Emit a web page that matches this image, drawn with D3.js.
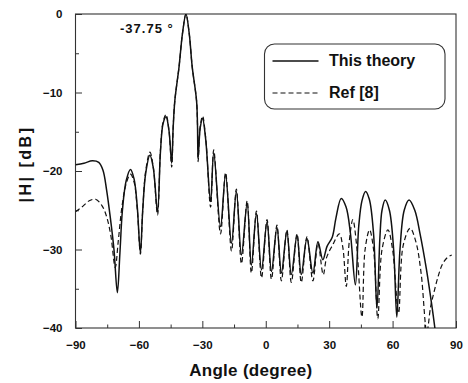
<!DOCTYPE html>
<html><head><meta charset="utf-8">
<script src="https://cdn.jsdelivr.net/npm/d3@7"></script>
<style>
body{margin:0;background:#fff;}
text{font-family:"Liberation Sans",Arial,Helvetica,sans-serif;font-weight:bold;fill:#111;}
</style></head>
<body><svg id="c" width="468" height="383"></svg>
<script>
// ---- data ----
const xTicks = [-90, -60, -30, 0, 30, 60, 90];
const xMinor = [-75, -45, -15, 15, 45, 75];
const yTicks = [0, -10, -20, -30, -40];
const yMinor = [-5, -15, -25, -35];

const theoryAngle = [-90,-86,-82,-79,-77,-75.3,-73.5,-71.8,-70.2,-69,-67.8,-66,-64,-62.3,-60.8,-59.3,-58.2,-56.8,-54.8,-53.2,-51.2,-49.8,-48.6,-47.2,-45.8,-44.5,-43.8,-43,-41,-39.4,-37.75,-36.2,-34.8,-32.75,-32.3,-32,-31,-29.9,-28.4,-26.1,-24.6,-21.4,-19.0,-16.2,-13.9,-11.5,-8.8,-6.8,-4.4,-2.0,0.6,2.7,5.3,7.4,10.0,12.1,14.8,16.8,19.5,22.3,24.7,27.0,29,31.5,33.2,35.7,38,40,42.4,44,45.5,47.2,49,51,52.6,54,55,56.5,58.5,60.5,62,63.5,65.5,67.8,70.5,73,76,78.5,80.5];
const theoryDb = [-19.2,-19.0,-18.7,-18.9,-19.9,-22.4,-26,-30,-35.5,-30.5,-25,-21.2,-19.8,-21,-24.5,-30.4,-25,-20.3,-18.0,-19.6,-25.2,-17.5,-14,-13.1,-14.8,-19.0,-14.5,-11,-6.7,-2.5,0,-2.5,-6.7,-11,-14,-18.4,-14.5,-13.3,-16,-23.9,-17.7,-27.1,-20.5,-29.2,-22.6,-30.7,-24.1,-32.0,-25.4,-32.6,-26.5,-32.8,-27.2,-33.0,-27.7,-33.2,-28.2,-33.2,-28.6,-33.0,-29.0,-31.3,-29.6,-28.4,-26,-23.5,-24.6,-27.8,-34.5,-27,-23.8,-22.6,-23.6,-28,-37.5,-28.5,-25,-23.7,-25,-30,-38.6,-30,-25,-23.7,-25,-28,-32.5,-37,-41];

const refAngle = [-90,-87,-83.5,-80.5,-77.5,-75.3,-73.3,-71.2,-69.8,-68,-66,-64,-62.3,-60.8,-59.3,-58.2,-56.8,-54.8,-53.2,-51.2,-49.8,-48.6,-47.2,-45.8,-44.5,-43.8,-43,-41,-39.4,-37.75,-36.2,-34.8,-32.75,-32.3,-32,-31,-29.9,-28.4,-26.1,-24.6,-21.4,-19.0,-16.2,-13.9,-11.5,-8.8,-6.8,-4.4,-2.0,0.6,2.7,5.3,7.4,10.0,12.1,14.8,16.8,19.5,22.3,24.7,27.2,28.8,31.5,34.8,36.5,38.1,39.5,41.2,43,45.5,47,49.1,51,53,55,57.8,60,62.8,65,68.3,71,73.5,76.2,78,79.8,81.8,83.7,86,88];
const refDb = [-25.2,-24.6,-23.8,-23.6,-24.4,-25.8,-28.2,-32.3,-29,-24.5,-21.6,-20.4,-21.4,-24.8,-30.6,-25,-20,-17.6,-19.5,-25.6,-17.3,-13.8,-12.8,-14.8,-19.5,-14.5,-11,-6.7,-2.5,0,-2.5,-6.7,-11,-14,-18.8,-14.3,-13.0,-15.8,-24.6,-17.3,-28,-20.2,-30.2,-22.3,-31.8,-23.8,-33.0,-25.1,-33.6,-26.2,-33.8,-26.9,-34.0,-27.5,-34.2,-28.0,-34.2,-28.4,-34.0,-29.2,-33.2,-31,-29.5,-28,-29.8,-34.7,-29,-26.2,-29.5,-38.6,-30,-27.5,-30,-38.8,-30,-27.5,-30,-38.1,-29.5,-27.3,-29,-33,-40.5,-37.3,-35.2,-33.2,-31.8,-31,-30.7];

const seriesNames = ["This theory", "Ref [8]"];
const peakLabel = "-37.75 °";

// ---- layout ----
const svg = d3.select("#c");
const L = 75.5, R = 456, T = 14, B = 328;
const x = d3.scaleLinear().domain([-90, 90]).range([L, R]);
const y = d3.scaleLinear().domain([-40, 0]).range([B, T]);

svg.append("defs").append("clipPath").attr("id","clip")
  .append("rect").attr("x", L).attr("y", T).attr("width", R - L).attr("height", B - T);

// axes
const gx = svg.append("g").attr("transform", `translate(0,${B})`)
  .call(d3.axisBottom(x).tickValues(xTicks).tickSize(-7).tickPadding(13).tickFormat(d3.format("d")));
const gxm = svg.append("g").attr("transform", `translate(0,${B})`)
  .call(d3.axisBottom(x).tickValues(xMinor).tickSize(-3.5).tickFormat(""));
const gy = svg.append("g").attr("transform", `translate(${L},0)`)
  .call(d3.axisLeft(y).tickValues(yTicks).tickSize(-6.5).tickPadding(13).tickFormat(d3.format("d")));
const gym = svg.append("g").attr("transform", `translate(${L},0)`)
  .call(d3.axisLeft(y).tickValues(yMinor).tickSize(-3.5).tickFormat(""));
[gx, gxm, gy, gym].forEach(g => {
  g.select(".domain").remove();
  g.selectAll("line").attr("stroke", "#333").attr("stroke-width", 1);
  g.selectAll("text").style("font-size", "11.5px").attr("fill", "#111");
});
gx.selectAll(".tick text").attr("dy", "0.71em");

// frame
svg.append("rect").attr("x", L).attr("y", T).attr("width", R - L).attr("height", B - T)
  .attr("fill", "none").attr("stroke", "#333").attr("stroke-width", 1.1);

// lines
const line = d3.line().x(d => x(d[0])).y(d => y(d[1])).curve(d3.curveCatmullRom.alpha(0.5));
const plot = svg.append("g").attr("clip-path", "url(#clip)");
plot.append("path").datum(refAngle.map((a, i) => [a, refDb[i]]))
  .attr("d", line).attr("fill", "none").attr("stroke", "#111")
  .attr("stroke-width", 1.2).attr("stroke-dasharray", "5,3");
plot.append("path").datum(theoryAngle.map((a, i) => [a, theoryDb[i]]))
  .attr("d", line).attr("fill", "none").attr("stroke", "#111").attr("stroke-width", 1.5);

// peak annotation
svg.append("text").attr("x", 120).attr("y", 32.5).style("font-size", "13px")
  .style("letter-spacing", "1px").text(peakLabel);

// legend
svg.append("rect").attr("x", 264.5).attr("y", 44).attr("width", 180.5).attr("height", 65)
  .attr("rx", 10).attr("ry", 10).attr("fill", "#fff").attr("stroke", "#333").attr("stroke-width", 1.1);
svg.append("line").attr("x1", 272.5).attr("x2", 318.5).attr("y1", 61).attr("y2", 61)
  .attr("stroke", "#111").attr("stroke-width", 1.5);
svg.append("line").attr("x1", 272.5).attr("x2", 319).attr("y1", 93).attr("y2", 93)
  .attr("stroke", "#111").attr("stroke-width", 1.2).attr("stroke-dasharray", "5,3");
svg.append("text").attr("x", 329).attr("y", 66).style("font-size", "16px").text(seriesNames[0]);
svg.append("text").attr("x", 329).attr("y", 97.5).style("font-size", "16px").text(seriesNames[1]);

// axis titles
svg.append("text").attr("x", (L + R) / 2 - 15).attr("y", 376).attr("text-anchor", "middle")
  .style("font-size", "17px").style("letter-spacing", "0.3px").text("Angle (degree)");
svg.append("text").attr("transform", "translate(31,164) rotate(-90)").attr("text-anchor", "middle")
  .style("font-size", "16px").style("letter-spacing", "2.5px").text("|H| [dB]");
</script></body></html>
